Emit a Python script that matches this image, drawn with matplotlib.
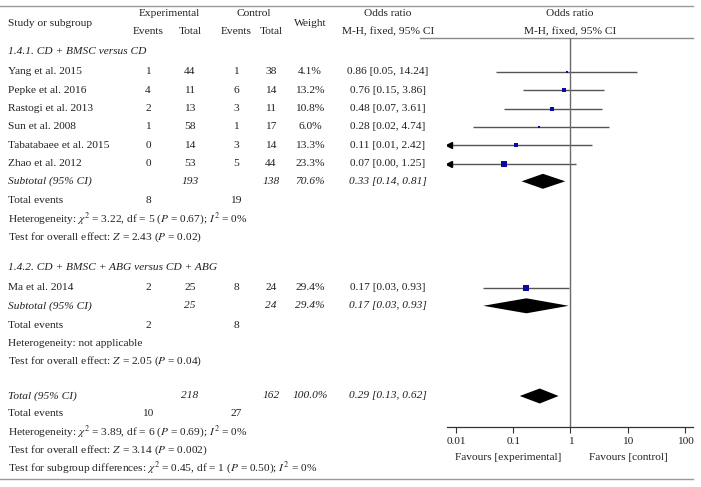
import numpy as np
import matplotlib
matplotlib.use("Agg")
import matplotlib.pyplot as plt

plt.rcParams['font.family'] = ['Liberation Serif', 'DejaVu Serif']
plt.rcParams['mathtext.fontset'] = 'stix'

# study level data
studies = ["Yang et al. 2015", "Pepke et al. 2016", "Rastogi et al. 2013", "Sun et al. 2008",
           "Tabatabaee et al. 2015", "Zhao et al. 2012", "Ma et al. 2014"]
study_group = [0, 0, 0, 0, 0, 0, 1]
exp_events = [1, 4, 2, 1, 0, 0, 2]
exp_total = [44, 11, 13, 58, 14, 53, 25]
ctl_events = [1, 6, 3, 1, 3, 5, 8]
ctl_total = [38, 14, 11, 17, 14, 44, 24]
weights = [4.1, 13.2, 10.8, 6.0, 13.3, 23.3, 29.4]
or_est = [0.86, 0.76, 0.48, 0.28, 0.11, 0.07, 0.17]
or_lo = [0.05, 0.15, 0.07, 0.02, 0.01, 0.00, 0.03]
or_hi = [14.24, 3.86, 3.61, 4.74, 2.42, 1.25, 0.93]

# subgroup data
group_names = ["1.4.1. CD + BMSC versus CD", "1.4.2. CD + BMSC + ABG versus CD + ABG"]
sub_exp_total = [193, 25]
sub_ctl_total = [138, 24]
sub_weight = [70.6, 29.4]
sub_est = [0.33, 0.17]
sub_lo = [0.14, 0.03]
sub_hi = [0.81, 0.93]
sub_exp_events = [8, 2]
sub_ctl_events = [19, 8]
sub_het = [r"Heterogeneity: $\chi^2$ = 3.22, df = 5 ($P$ = 0.67); $I^2$ = 0%",
           "Heterogeneity: not applicable"]
sub_test = [r"Test for overall effect: $Z$ = 2.43 ($P$ = 0.02)",
            r"Test for overall effect: $Z$ = 2.05 ($P$ = 0.04)"]

# overall
tot_exp_total, tot_ctl_total, tot_weight = 218, 162, 100.0
tot_est, tot_lo, tot_hi = 0.29, 0.13, 0.62
tot_exp_events, tot_ctl_events = 10, 27
tot_het = r"Heterogeneity: $\chi^2$ = 3.89, df = 6 ($P$ = 0.69); $I^2$ = 0%"
tot_test = r"Test for overall effect: $Z$ = 3.14 ($P$ = 0.002)"
tot_diff = r"Test for subgroup differences: $\chi^2$ = 0.45, df = 1 ($P$ = 0.50); $I^2$ = 0%"

ticks = [0.01, 0.1, 1, 10, 100]
tick_labels = ["0.01", "0.1", "1", "10", "100"]

TXT = '#231f20'
FS = 8.2
W, H = 701, 487

# column x positions (pixels)
X_NAME, X_EE, X_ET, X_CE, X_CT, X_W, X_OR = 8, 148, 190, 236, 271, 310, 388

fig = plt.figure(figsize=(W / 100, H / 100), dpi=100)
tab = fig.add_axes([0, 0, 1, 1])
tab.set_xlim(0, W)
tab.set_ylim(H, 0)
tab.axis('off')

ax = fig.add_axes([447 / W, 0, 246 / W, 1])
ax.set_xscale('log')
xmin, xmax = 10 ** -2.157, 10 ** 2.14
ax.set_xlim(xmin, xmax)
ax.set_ylim(H, 0)
ax.patch.set_alpha(0)
for s in ['top', 'left', 'right']:
    ax.spines[s].set_visible(False)
ax.spines['bottom'].set_position(('data', 427))
ax.spines['bottom'].set_color('#333333')
ax.spines['bottom'].set_linewidth(0.9)
ax.set_yticks([])
ax.set_xticks(ticks)
ax.set_xticklabels(tick_labels)
ax.minorticks_off()
ax.tick_params(axis='x', direction='out', length=4, width=0.8, color='#333333',
               labelsize=FS, labelcolor=TXT, pad=3)


def txt(x, y, s, ha='center', italic=False):
    tab.text(x, y, s, ha=ha, va='center', fontsize=FS, color=TXT,
             style='italic' if italic else 'normal')


def fmt_or(e, l, h):
    return f"{e:.2f} [{l:.2f}, {h:.2f}]"


def diamond(y, e, l, h):
    ax.fill([l, e, h, e], [y, y - 7.5, y, y + 7.5], color='black', lw=0)


# header
tab.plot([0, 693], [6, 6], color='#9a9a9a', lw=1)
tab.plot([420, 693], [38, 38], color='#8a8a8a', lw=1)
txt(X_NAME, 23, "Study or subgroup", ha='left')
txt((X_EE + X_ET) / 2, 14, "Experimental")
txt(X_EE, 32, "Events")
txt(X_ET, 32, "Total")
txt((X_CE + X_CT) / 2, 14, "Control")
txt(X_CE, 32, "Events")
txt(X_CT, 32, "Total")
txt(X_W, 23, "Weight")
txt(X_OR, 14, "Odds ratio")
txt(X_OR, 32, "M-H, fixed, 95% CI")
txt(570, 14, "Odds ratio")
txt(570, 32, "M-H, fixed, 95% CI")

section_top = [51, 267]
for g in range(2):
    y = section_top[g]
    txt(X_NAME, y, group_names[g], ha='left', italic=True)
    y += 21
    for i in range(len(studies)):
        if study_group[i] != g:
            continue
        txt(X_NAME, y, studies[i], ha='left')
        txt(X_EE, y, str(exp_events[i]))
        txt(X_ET, y, str(exp_total[i]))
        txt(X_CE, y, str(ctl_events[i]))
        txt(X_CT, y, str(ctl_total[i]))
        txt(X_W, y, f"{weights[i]:.1f}%")
        txt(X_OR, y, fmt_or(or_est[i], or_lo[i], or_hi[i]))
        lo = or_lo[i]
        if lo <= 0.01:
            # interval runs off the scale: arrow at the left end
            left = 10 ** -2.13
            ax.hlines(y, left, or_hi[i], color='#555555', lw=1)
            ax.plot(left, y, marker='<', ms=4.5, color='black', mec='black')
        else:
            ax.hlines(y, lo, or_hi[i], color='#555555', lw=1)
        ax.plot(or_est[i], y, 's', ms=0.8 * np.sqrt(weights[i]), color='#0a0aa0', mew=0)
        y += 18.3
    y -= 0.5
    txt(X_NAME, y, "Subtotal (95% CI)", ha='left', italic=True)
    txt(X_ET, y, str(sub_exp_total[g]), italic=True)
    txt(X_CT, y, str(sub_ctl_total[g]), italic=True)
    txt(X_W, y, f"{sub_weight[g]:.1f}%", italic=True)
    txt(X_OR, y, fmt_or(sub_est[g], sub_lo[g], sub_hi[g]), italic=True)
    diamond(y, sub_est[g], sub_lo[g], sub_hi[g])
    y += 19.5
    txt(X_NAME, y, "Total events", ha='left')
    txt(X_EE, y, str(sub_exp_events[g]))
    txt(X_CE, y, str(sub_ctl_events[g]))
    y += 18
    txt(X_NAME, y, sub_het[g], ha='left')
    y += 18
    txt(X_NAME, y, sub_test[g], ha='left')

y = 396
txt(X_NAME, y, "Total (95% CI)", ha='left', italic=True)
txt(X_ET, y, str(tot_exp_total), italic=True)
txt(X_CT, y, str(tot_ctl_total), italic=True)
txt(X_W, y, f"{tot_weight:.1f}%", italic=True)
txt(X_OR, y, fmt_or(tot_est, tot_lo, tot_hi), italic=True)
diamond(y, tot_est, tot_lo, tot_hi)
txt(X_NAME, 414, "Total events", ha='left')
txt(X_EE, 414, str(tot_exp_events))
txt(X_CE, 414, str(tot_ctl_events))
txt(X_NAME, 432, tot_het, ha='left')
txt(X_NAME, 450, tot_test, ha='left')
txt(X_NAME, 468, tot_diff, ha='left')
tab.plot([0, 693], [479, 479], color='#9a9a9a', lw=1)

# line of no effect
ax.vlines(1, 38, 427, color='#6a6a6a', lw=1)

txt(508, 458, "Favours [experimental]")
txt(628, 458, "Favours [control]")

fig.savefig("out.png", dpi=100)
